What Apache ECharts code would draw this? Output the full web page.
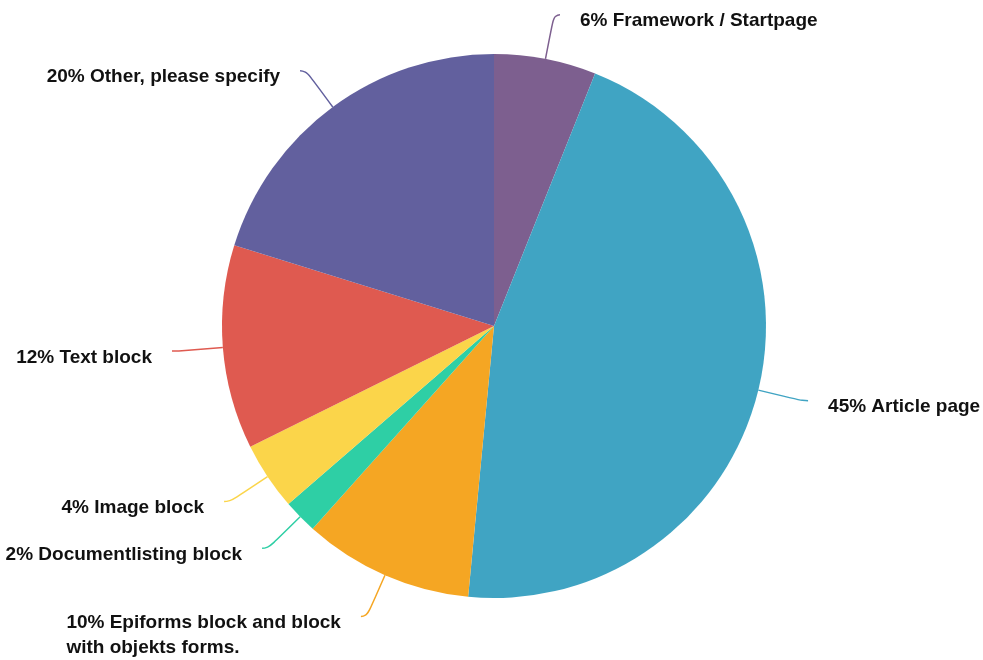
<!DOCTYPE html>
<html>
<head>
<meta charset="utf-8">
<style>
  html, body { margin: 0; padding: 0; background: #ffffff; }
  #chart { width: 983px; height: 660px; }
</style>
<script src="https://cdn.jsdelivr.net/npm/echarts@6/dist/echarts.min.js"></script>
</head>
<body>
<div id="chart"></div>
<script>
// Share of answers per page/block type (percent)
const categories = [
  'Framework / Startpage',
  'Article page',
  'Epiforms block and block with objekts forms.',
  'Documentlisting block',
  'Image block',
  'Text block',
  'Other, please specify'
];
const shares = [6, 45, 10, 2, 4, 12, 20];
const colors = ['#7d5f8f', '#40a4c3', '#f5a623', '#2ecfa5', '#fbd54a', '#df5a50', '#62609e'];

const FONT = "'Liberation Sans', Arial, Helvetica, sans-serif";
const MAX_CHARS = 30;
const LINE_H = 25;

// Break long labels into lines of at most MAX_CHARS characters
function splitLines(text) {
  const words = text.split(' ');
  const lines = [];
  let cur = '';
  words.forEach(w => {
    const next = cur ? cur + ' ' + w : w;
    if (next.length > MAX_CHARS && cur) {
      lines.push(cur);
      cur = w;
    } else {
      cur = next;
    }
  });
  if (cur) lines.push(cur);
  return lines;
}

const chart = echarts.init(document.getElementById('chart'), null, { renderer: 'canvas' });

const data = categories.map((name, i) => {
  const lines = splitLines(shares[i] + '% ' + name).length;
  // keep the first text line just below the end of the leader line
  const padTop = 13 + (lines - 1) * LINE_H;
  return {
    name: name,
    value: shares[i],
    itemStyle: { color: colors[i] },
    label: { padding: [padTop, 0, 0, 0] }
  };
});

chart.setOption({
  backgroundColor: '#ffffff',
  animation: false,
  series: [{
    type: 'pie',
    center: [494, 326],
    radius: 272,
    startAngle: 90,
    clockwise: true,
    avoidLabelOverlap: false,
    data: data,
    label: {
      show: true,
      formatter: p => splitLines(p.value + '% ' + p.name).map(l => '{t|' + l + '}').join('\n'),
      color: '#111111',
      fontFamily: FONT,
      fontWeight: 'bold',
      fontSize: 19,
      lineHeight: LINE_H,
      distanceToLabelLine: 20,
      rich: {
        t: {
          align: 'left',
          color: '#111111',
          fontFamily: FONT,
          fontWeight: 'bold',
          fontSize: 19,
          lineHeight: LINE_H
        }
      }
    },
    labelLine: {
      show: true,
      length: 45,
      length2: 6,
      smooth: 0.6,
      lineStyle: { width: 1.5 }
    },
    itemStyle: { borderWidth: 0 }
  }]
});
</script>
</body>
</html>
